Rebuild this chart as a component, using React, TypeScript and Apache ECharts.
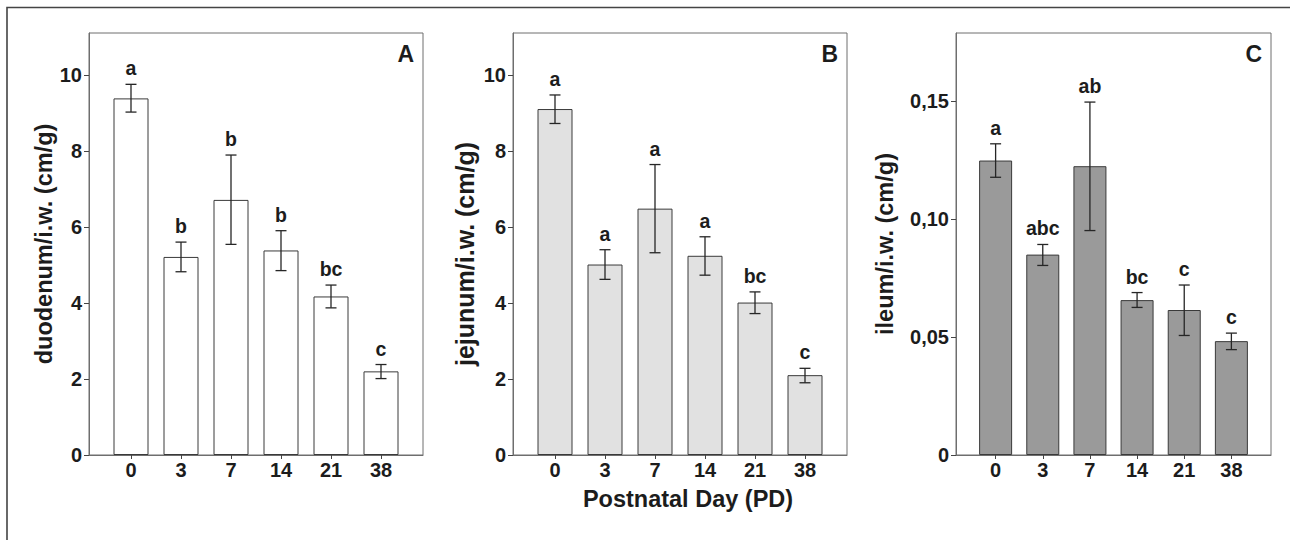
import React, { useEffect, useRef } from "react";
import * as echarts from "echarts";

const categories = ["0", "3", "7", "14", "21", "38"];

const duodenumMean = [9.38, 5.21, 6.71, 5.38, 4.17, 2.2];
const duodenumLow = [9.02, 4.82, 5.54, 4.85, 3.87, 2.01];
const duodenumHigh = [9.75, 5.6, 7.89, 5.9, 4.47, 2.38];
const duodenumLetters = ["a", "b", "b", "b", "bc", "c"];

const jejunumMean = [9.1, 5.01, 6.48, 5.24, 4.01, 2.1];
const jejunumLow = [8.72, 4.62, 5.32, 4.73, 3.72, 1.9];
const jejunumHigh = [9.47, 5.4, 7.64, 5.74, 4.29, 2.28];
const jejunumLetters = ["a", "a", "a", "a", "bc", "c"];

const ileumMean = [0.1249, 0.085, 0.1225, 0.0657, 0.0615, 0.0483];
const ileumLow = [0.1178, 0.0804, 0.0952, 0.0626, 0.0507, 0.0447];
const ileumHigh = [0.132, 0.0893, 0.1497, 0.0689, 0.0721, 0.0517];
const ileumLetters = ["a", "abc", "ab", "bc", "c", "c"];

const ticksAB = [0, 2, 4, 6, 8, 10];
const ticksC = [0, 0.05, 0.1, 0.15];

const FONT = "'Liberation Sans', Arial, Helvetica, sans-serif";
const TEXT = "#1c1c1c";

type Panel = {
  key: string;
  left: number;
  width: number;
  max: number;
  ticks: number[];
  mean: number[];
  low: number[];
  high: number[];
  letters: string[];
  fill: string;
  barWidth: number;
  yName: string;
  nameGap: number;
  namePad: number[];
  nameSize: number;
  fmt: (v: number) => string;
};

const panels: Panel[] = [
  {
    key: "A", left: 89, width: 334, max: 11.1, ticks: ticksAB,
    mean: duodenumMean, low: duodenumLow, high: duodenumHigh, letters: duodenumLetters,
    fill: "#ffffff", barWidth: 35, yName: "duodenum/i.w. (cm/g)", nameGap: 32, nameSize: 23.5,
    namePad: [0, 0, 0, 0],
    fmt: (v) => String(v),
  },
  {
    key: "B", left: 513, width: 334, max: 11.1, ticks: ticksAB,
    mean: jejunumMean, low: jejunumLow, high: jejunumHigh, letters: jejunumLetters,
    fill: "#e1e1e1", barWidth: 35, yName: "jejunum/i.w. (cm/g)", nameGap: 36, nameSize: 25,
    namePad: [0, 20, 0, 0],
    fmt: (v) => String(v),
  },
  {
    key: "C", left: 956, width: 315, max: 0.179, ticks: ticksC,
    mean: ileumMean, low: ileumLow, high: ileumHigh, letters: ileumLetters,
    fill: "#9a9a9a", barWidth: 33, yName: "ileum/i.w. (cm/g)", nameGap: 59, nameSize: 23.5,
    namePad: [0, 0, 0, 0],
    fmt: (v) => (v === 0 ? "0" : v.toFixed(2).replace(".", ",")),
  },
];

const TOP = 33;
const HEIGHT = 422;
const XMIN = -0.84;
const XMAX = 5.84;
const idx = categories.map((_, i) => i);

export default function App() {
  const ref = useRef<HTMLDivElement>(null);
  useEffect(() => {
    if (!ref.current) return;
    const chart = echarts.init(ref.current, undefined, { renderer: "svg" });
    const grid: any[] = [];
    const xAxis: any[] = [];
    const yAxis: any[] = [];
    const series: any[] = [];
    const graphic: any[] = [
      {
        type: "polyline",
        shape: { points: [[7, 545], [7, 7.5], [1295, 7.5]] },
        style: { stroke: "#444", lineWidth: 1.6, fill: "none" },
        silent: true,
      },
    ];
    panels.forEach((p, i) => {
      grid.push({
        left: p.left, top: TOP, width: p.width, height: HEIGHT,
        show: true, borderColor: "#6e6e6e", borderWidth: 1, backgroundColor: "transparent",
      });
      xAxis.push({
        gridIndex: i, type: "value", min: XMIN, max: XMAX,
        axisLine: { show: true, onZero: false, lineStyle: { color: "#6e6e6e", width: 1 } },
        axisTick: { show: true, customValues: idx, length: 4, lineStyle: { color: "#444" } },
        axisLabel: {
          customValues: idx, margin: 5,
          formatter: (v: number) => categories[Math.round(v)] ?? "",
          color: TEXT, fontSize: 20, fontWeight: "bold", fontFamily: FONT,
        },
        splitLine: { show: false },
        ...(i === 1
          ? {
              name: "Postnatal Day (PD)", nameLocation: "middle", nameGap: 32,
              nameTextStyle: { color: TEXT, fontSize: 23.5, fontWeight: "bold", fontFamily: FONT, padding: [0, 0, 0, 16] },
            }
          : {}),
      });
      yAxis.push({
        gridIndex: i, type: "value", min: 0, max: p.max,
        axisLine: { show: true, onZero: false, lineStyle: { color: "#6e6e6e", width: 1 } },
        axisTick: { show: true, customValues: p.ticks, length: 5, lineStyle: { color: "#444" } },
        axisLabel: {
          customValues: p.ticks, margin: 7, formatter: p.fmt,
          color: TEXT, fontSize: 20, fontWeight: "bold", fontFamily: FONT,
        },
        splitLine: { show: false },
        name: p.yName, nameLocation: "middle", nameGap: p.nameGap, nameRotate: 90,
        nameTextStyle: { color: TEXT, fontSize: p.nameSize, fontWeight: "bold", fontFamily: FONT, padding: p.namePad },
      });
      series.push({
        type: "bar", xAxisIndex: i, yAxisIndex: i, barWidth: p.barWidth,
        data: p.mean.map((v, k) => [k, v]),
        itemStyle: { color: p.fill, borderColor: "#3a3a3a", borderWidth: 1 },
        silent: true,
      });
      const letters = p.letters;
      series.push({
        type: "custom", xAxisIndex: i, yAxisIndex: i, silent: true, z: 5,
        encode: { x: 0, y: [1, 2] },
        data: p.mean.map((_, k) => [k, p.low[k], p.high[k]]),
        renderItem: (params: any, api: any) => {
          const x = api.value(0);
          const lo = api.coord([x, api.value(1)]);
          const hi = api.coord([x, api.value(2)]);
          const cap = 5.5;
          const ls = { stroke: "#262626", lineWidth: 1.3 };
          return {
            type: "group",
            children: [
              { type: "line", shape: { x1: lo[0], y1: lo[1], x2: hi[0], y2: hi[1] }, style: ls },
              { type: "line", shape: { x1: hi[0] - cap, y1: hi[1], x2: hi[0] + cap, y2: hi[1] }, style: ls },
              { type: "line", shape: { x1: lo[0] - cap, y1: lo[1], x2: lo[0] + cap, y2: lo[1] }, style: ls },
              {
                type: "text",
                x: hi[0], y: hi[1] - 16,
                style: {
                  text: letters[params.dataIndex], fill: TEXT, fontSize: 19.5, fontWeight: "bold",
                  fontFamily: FONT, align: "center", verticalAlign: "middle",
                },
              },
            ],
          };
        },
      });
      graphic.push({
        type: "text",
        x: p.left + p.width - 9, y: 54,
        style: {
          text: p.key, fill: TEXT, fontSize: 23, fontWeight: "bold", fontFamily: FONT,
          align: "right", verticalAlign: "middle",
        },
        silent: true,
      });
    });
    chart.setOption({
      animation: false,
      backgroundColor: "#ffffff",
      grid, xAxis, yAxis, series, graphic,
    });
    return () => chart.dispose();
  }, []);
  return (
    <div
      ref={ref}
      style={{ position: "absolute", left: 0, top: 0, width: 1290, height: 540 }}
    />
  );
}
